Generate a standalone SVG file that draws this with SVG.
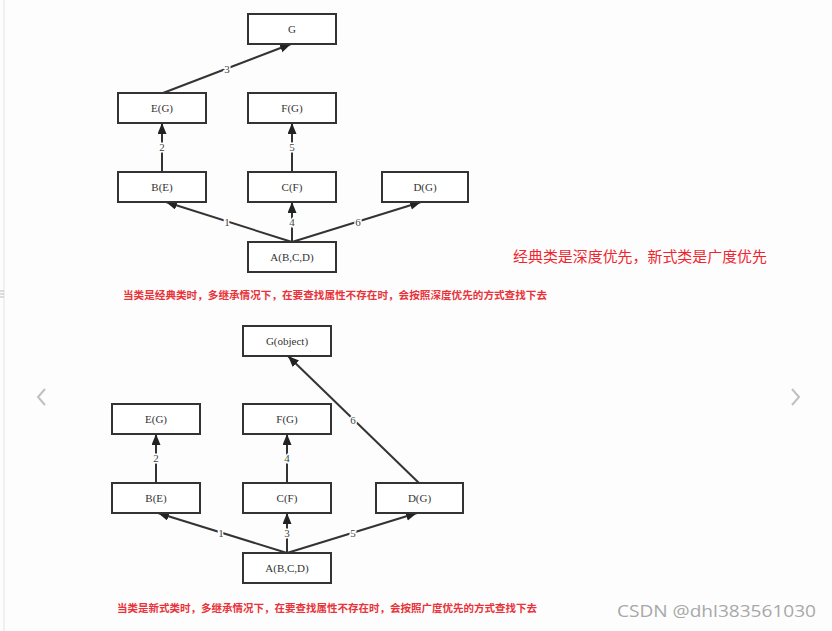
<svg xmlns="http://www.w3.org/2000/svg" width="832" height="631" viewBox="0 0 832 631">
<style>
.box{fill:#fff;stroke:#333;stroke-width:2}
.nt{font-family:"Liberation Serif",serif;font-size:11px;fill:#333;text-anchor:middle;dominant-baseline:central}
.edge{stroke:#333;stroke-width:2;fill:none;marker-end:url(#ah)}
.lbl{font-family:"Liberation Serif",serif;font-size:11px;fill:#444;text-anchor:middle;dominant-baseline:central;stroke:#fff;stroke-width:3;paint-order:stroke}
.red{font-family:"Noto Sans CJK SC",serif;font-size:10.5px;fill:#e8333a;font-weight:bold}
.nav{stroke:#c0c0c0;stroke-width:2;fill:none}
</style>
<defs>
<marker id="ah" markerUnits="userSpaceOnUse" markerWidth="12" markerHeight="10" refX="11" refY="4.5" orient="auto">
<path d="M0,0 L11,4.5 L0,9 z" fill="#222"/>
</marker>
</defs>
<rect width="832" height="631" fill="#fdfdfd"/>
<line x1="4" y1="0" x2="4" y2="631" stroke="#e4e4e4" stroke-width="1"/>
<path d="M0,291 h4 M0,294 h4 M0,297 h4" stroke="#bbb" stroke-width="1"/>
<path class="nav" d="M45,389 L38,397 L45,405"/>
<path class="nav" d="M792,389 L799,397 L792,405"/>

<g id="top">
<g id="connectors-top">
<line class="edge" x1="163" y1="93" x2="291" y2="44"/>
<line class="edge" x1="162" y1="172" x2="162" y2="123"/>
<line class="edge" x1="292" y1="172" x2="292" y2="123"/>
<line class="edge" x1="292" y1="242" x2="166" y2="202"/>
<line class="edge" x1="292" y1="242" x2="292" y2="202"/>
<line class="edge" x1="292" y1="242" x2="421" y2="202"/>
<text class="lbl" x="227" y="69">3</text>
<text class="lbl" x="162" y="147">2</text>
<text class="lbl" x="292" y="147">5</text>
<text class="lbl" x="227" y="222">1</text>
<text class="lbl" x="292" y="222">4</text>
<text class="lbl" x="358" y="222">6</text>
</g>
<g id="t-G"><rect class="box" x="248" y="14" width="88" height="30"/><text class="nt" x="292" y="29">G</text></g>
<g id="t-E"><rect class="box" x="118" y="93" width="88" height="30"/><text class="nt" x="162" y="108">E(G)</text></g>
<g id="t-F"><rect class="box" x="248" y="93" width="88" height="30"/><text class="nt" x="292" y="108">F(G)</text></g>
<g id="t-B"><rect class="box" x="118" y="172" width="88" height="30"/><text class="nt" x="162" y="187">B(E)</text></g>
<g id="t-C"><rect class="box" x="248" y="172" width="88" height="30"/><text class="nt" x="292" y="187">C(F)</text></g>
<g id="t-D"><rect class="box" x="382" y="172" width="86" height="30"/><text class="nt" x="425" y="187">D(G)</text></g>
<g id="t-A"><rect class="box" x="248" y="242" width="88" height="30"/><text class="nt" x="292" y="257">A(B,C,D)</text></g>
<text class="red" x="123" y="299" textLength="424" lengthAdjust="spacingAndGlyphs">当类是经典类时，多继承情况下，在要查找属性不存在时，会按照深度优先的方式查找下去</text>
</g>

<text x="513" y="262" font-family="'Noto Sans CJK SC',sans-serif" font-size="15" fill="#f0262e" textLength="254" lengthAdjust="spacingAndGlyphs">经典类是深度优先，新式类是广度优先</text>

<g id="bottom">
<g id="connectors-bottom">
<line class="edge" x1="156" y1="483" x2="156" y2="434"/>
<line class="edge" x1="287" y1="483" x2="287" y2="434"/>
<line class="edge" x1="419" y1="483" x2="288" y2="356"/>
<line class="edge" x1="287" y1="553" x2="158" y2="513"/>
<line class="edge" x1="287" y1="553" x2="287" y2="513"/>
<line class="edge" x1="287" y1="553" x2="417" y2="513"/>
<text class="lbl" x="156" y="458">2</text>
<text class="lbl" x="287" y="458">4</text>
<text class="lbl" x="353" y="420">6</text>
<text class="lbl" x="221" y="533">1</text>
<text class="lbl" x="287" y="533">3</text>
<text class="lbl" x="353" y="533">5</text>
</g>
<g id="b-G"><rect class="box" x="243" y="326" width="88" height="30"/><text class="nt" x="287" y="341">G(object)</text></g>
<g id="b-E"><rect class="box" x="112" y="404" width="88" height="30"/><text class="nt" x="156" y="419">E(G)</text></g>
<g id="b-F"><rect class="box" x="243" y="404" width="88" height="30"/><text class="nt" x="287" y="419">F(G)</text></g>
<g id="b-B"><rect class="box" x="112" y="483" width="88" height="30"/><text class="nt" x="156" y="498">B(E)</text></g>
<g id="b-C"><rect class="box" x="243" y="483" width="88" height="30"/><text class="nt" x="287" y="498">C(F)</text></g>
<g id="b-D"><rect class="box" x="376" y="483" width="87" height="30"/><text class="nt" x="419.5" y="498">D(G)</text></g>
<g id="b-A"><rect class="box" x="243" y="553" width="88" height="30"/><text class="nt" x="287" y="568">A(B,C,D)</text></g>
<text class="red" x="117" y="612" textLength="420" lengthAdjust="spacingAndGlyphs">当类是新式类时，多继承情况下，在要查找属性不存在时，会按照广度优先的方式查找下去</text>
</g>

<text x="617" y="617" font-family="'Open Sans','Noto Sans',sans-serif" font-size="16" fill="#a8a8a8" textLength="199" lengthAdjust="spacingAndGlyphs">CSDN @dhl383561030</text>
</svg>
